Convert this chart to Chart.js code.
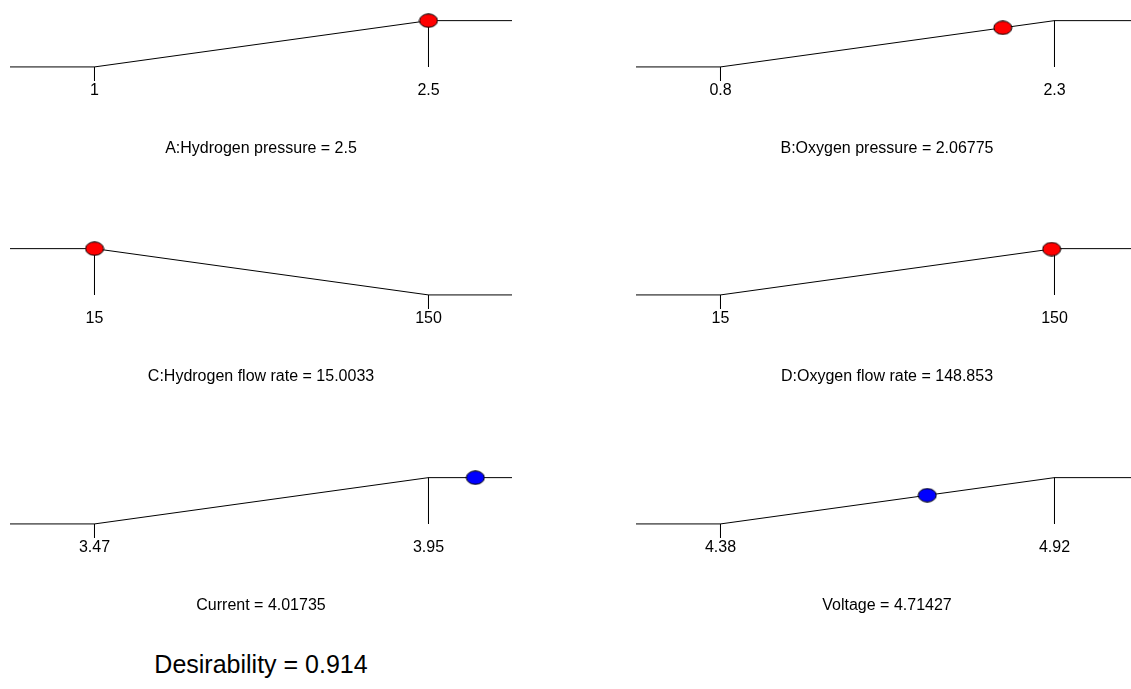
<!DOCTYPE html>
<html>
<head>
<meta charset="utf-8">
<script src="https://cdn.jsdelivr.net/npm/chart.js@4"></script>
<style>
  html, body { margin: 0; padding: 0; background: #fff; overflow: hidden; }
  body { width: 1131px; height: 689px; position: relative; }
  .panel { position: absolute; width: 502px; height: 159px; }
  #overall {
    position: absolute; left: 10px; width: 502px; top: 652px;
    text-align: center; font: 25px Arial, "Liberation Sans", sans-serif;
    line-height: 25px; color: #000;
  }
</style>
</head>
<body>

<div id="overall"></div>

<script>
// Optimization ramps: factors (red) and responses (blue)
const names = ['A:Hydrogen pressure', 'B:Oxygen pressure', 'C:Hydrogen flow rate', 'D:Oxygen flow rate', 'Current', 'Voltage'];
const kinds = ['factor', 'factor', 'factor', 'factor', 'response', 'response'];
const goals = ['max', 'max', 'min', 'max', 'max', 'max'];
const lowLimits = [1, 0.8, 15, 15, 3.47, 4.38];
const highLimits = [2.5, 2.3, 150, 150, 3.95, 4.92];
const optimum = [2.5, 2.06775, 15.0033, 148.853, 4.01735, 4.71427];
const desirability = [1, 0.845, 1, 0.99, 1, 0.62];
const overallDesirability = 0.914;

const dotColor = { factor: '#ff0000', response: '#0000ff' };

// panel placement (left edge of each column, top of each row)
const colLeft = [10, 636];
const rowTop = [0, 228, 457];

Chart.defaults.font.family = 'Arial, "Liberation Sans", sans-serif';
Chart.defaults.color = '#000';

function ellipse(fill) {
  const c = document.createElement('canvas');
  c.width = 20; c.height = 15;
  const g = c.getContext('2d');
  g.beginPath();
  g.ellipse(10, 7.5, 9, 6.7, 0, 0, Math.PI * 2);
  g.fillStyle = fill;
  g.fill();
  g.lineWidth = 1;
  g.strokeStyle = '#000';
  g.stroke();
  return c;
}

names.forEach((name, i) => {
  const div = document.createElement('div');
  div.className = 'panel';
  div.style.left = colLeft[i % 2] + 'px';
  div.style.top = rowTop[Math.floor(i / 2)] + 'px';
  const cv = document.createElement('canvas');
  div.appendChild(cv);
  document.body.appendChild(div);

  const lo = lowLimits[i], hi = highLimits[i];
  const span = hi - lo;
  const xmin = lo - span * 0.25299;
  const xmax = hi + span * 0.25;
  const dLo = goals[i] === 'max' ? 0 : 1;
  const dHi = 1 - dLo;

  const line = { showLine: true, borderColor: '#000', borderWidth: 1, pointRadius: 0, tension: 0 };

  new Chart(cv, {
    type: 'scatter',
    data: {
      datasets: [
        {
          data: [{ x: optimum[i], y: desirability[i] }],
          pointStyle: ellipse(dotColor[kinds[i]]),
          pointRadius: 8
        },
        Object.assign({
          data: [{ x: xmin, y: dLo }, { x: lo, y: dLo }, { x: hi, y: dHi }, { x: xmax, y: dHi }]
        }, line),
        Object.assign({
          data: [{ x: lo, y: dLo }, { x: lo, y: dLo === 1 ? 0 : -0.3 }]
        }, line),
        Object.assign({
          data: [{ x: hi, y: dHi }, { x: hi, y: dHi === 1 ? 0 : -0.3 }]
        }, line)
      ]
    },
    options: {
      responsive: true,
      maintainAspectRatio: false,
      animation: false,
      events: [],
      clip: false,
      layout: { padding: 0, autoPadding: false },
      plugins: { legend: { display: false }, tooltip: { enabled: false } },
      scales: {
        x: {
          type: 'linear',
          min: xmin,
          max: xmax,
          afterBuildTicks: (scale) => { scale.ticks = [{ value: lo }, { value: hi }]; },
          ticks: {
            padding: 1,
            font: { size: 16, lineHeight: 1.25 },
            color: '#000',
            callback: (v) => String(v)
          },
          grid: { display: false, drawTicks: false },
          border: { display: false },
          title: {
            display: true,
            text: name + ' = ' + optimum[i],
            font: { size: 16, lineHeight: 1.25 },
            color: '#000',
            padding: { top: 38, bottom: 0 }
          }
        },
        y: {
          display: false,
          min: -0.2717,
          max: 1.4457
        }
      }
    }
  });
});

document.getElementById('overall').textContent = 'Desirability = ' + overallDesirability;
</script>
</body>
</html>
